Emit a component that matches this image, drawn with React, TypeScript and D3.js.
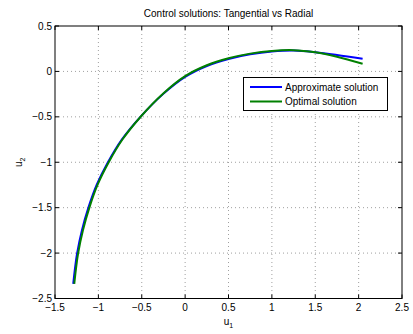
import React from "react";
import * as d3 from "d3";

const xTicks = [-1.5, -1, -0.5, 0, 0.5, 1, 1.5, 2, 2.5];
const yTicks = [-2.5, -2, -1.5, -1, -0.5, 0, 0.5];

const u1Approx = [-1.29, -1.27, -1.245, -1.19, -1.115, -1.02, -0.89, -0.73, -0.515, -0.255, 0, 0.25, 0.5, 0.75, 1.0, 1.25, 1.5, 1.75, 2.046];
const u2Approx = [-2.34, -2.17, -2.0, -1.75, -1.5, -1.25, -1.0, -0.75, -0.5, -0.25, -0.06, 0.06, 0.137, 0.188, 0.219, 0.23, 0.212, 0.182, 0.14];

const u1Optimal = [-1.278, -1.258, -1.233, -1.178, -1.104, -1.01, -0.881, -0.723, -0.51, -0.252, 0, 0.25, 0.5, 0.75, 1.0, 1.25, 1.5, 1.75, 2.046];
const u2Optimal = [-2.34, -2.17, -2.0, -1.75, -1.5, -1.25, -1.0, -0.75, -0.496, -0.243, -0.052, 0.068, 0.145, 0.196, 0.226, 0.234, 0.21, 0.162, 0.085];

const seriesNames = ["Approximate solution", "Optimal solution"];
const seriesColors = ["#0000ff", "#008000"];

const W = 413, H = 334;
const L = 55, R = 402, T = 26, B = 298.5;

export default function App() {
  const x = d3.scaleLinear().domain([-1.5, 2.5]).range([L, R]);
  const y = d3.scaleLinear().domain([-2.5, 0.5]).range([B, T]);
  const line = d3.line<[number, number]>().x(d => x(d[0])).y(d => y(d[1])).curve(d3.curveCatmullRom.alpha(0.5));
  const series = [
    u1Approx.map((v, i) => [v, u2Approx[i]] as [number, number]),
    u1Optimal.map((v, i) => [v, u2Optimal[i]] as [number, number]),
  ];
  const fmt = (v: number) => (v < 0 ? "\u2212" + Math.abs(v) : String(v));
  const font = "Liberation Sans, Arial, sans-serif";
  const tl = 4;
  return (
    <svg width={W} height={H} style={{ position: "absolute", left: 0, top: 0, fontFamily: font }}>
      <rect x={0} y={0} width={W} height={H} fill="#fff" />
      {xTicks.slice(1, -1).map(t => (
        <line key={"gx" + t} x1={x(t)} x2={x(t)} y1={T} y2={B} stroke="#888" strokeWidth={0.8} strokeDasharray="1,3" />
      ))}
      {yTicks.slice(1, -1).map(t => (
        <line key={"gy" + t} x1={L} x2={R} y1={y(t)} y2={y(t)} stroke="#888" strokeWidth={0.8} strokeDasharray="1,3" />
      ))}
      {series.map((s, i) => (
        <path key={i} d={line(s) || ""} fill="none" stroke={seriesColors[i]} strokeWidth={2} />
      ))}
      <rect x={L} y={T} width={R - L} height={B - T} fill="none" stroke="#000" strokeWidth={1} />
      {xTicks.map(t => (
        <g key={"tx" + t}>
          <line x1={x(t)} x2={x(t)} y1={B} y2={B - tl} stroke="#000" />
          <line x1={x(t)} x2={x(t)} y1={T} y2={T + tl} stroke="#000" />
          <text x={x(t)} y={B + 12} fontSize={10} textAnchor="middle">{fmt(t)}</text>
        </g>
      ))}
      {yTicks.map(t => (
        <g key={"ty" + t}>
          <line x1={L} x2={L + tl} y1={y(t)} y2={y(t)} stroke="#000" />
          <line x1={R} x2={R - tl} y1={y(t)} y2={y(t)} stroke="#000" />
          <text x={L - 3} y={y(t) + 3.5} fontSize={10} textAnchor="end">{fmt(t)}</text>
        </g>
      ))}
      <text x={(L + R) / 2} y={17} fontSize={10} textAnchor="middle">Control solutions: Tangential vs Radial</text>
      <text x={(L + R) / 2} y={325} fontSize={10} textAnchor="middle">u<tspan fontSize={7} dy={3}>1</tspan></text>
      <text transform={`translate(22,${(T + B) / 2}) rotate(-90)`} fontSize={10} textAnchor="middle">u<tspan fontSize={7} dy={3}>2</tspan></text>
      <rect x={243.5} y={77.5} width={144} height={33} fill="#fff" stroke="#000" strokeWidth={1} />
      {seriesNames.map((n, i) => (
        <g key={n}>
          <line x1={250} x2={282} y1={87 + i * 14.5} y2={87 + i * 14.5} stroke={seriesColors[i]} strokeWidth={2} />
          <text x={285} y={87 + i * 14.5 + 3.5} fontSize={10}>{n}</text>
        </g>
      ))}
    </svg>
  );
}
